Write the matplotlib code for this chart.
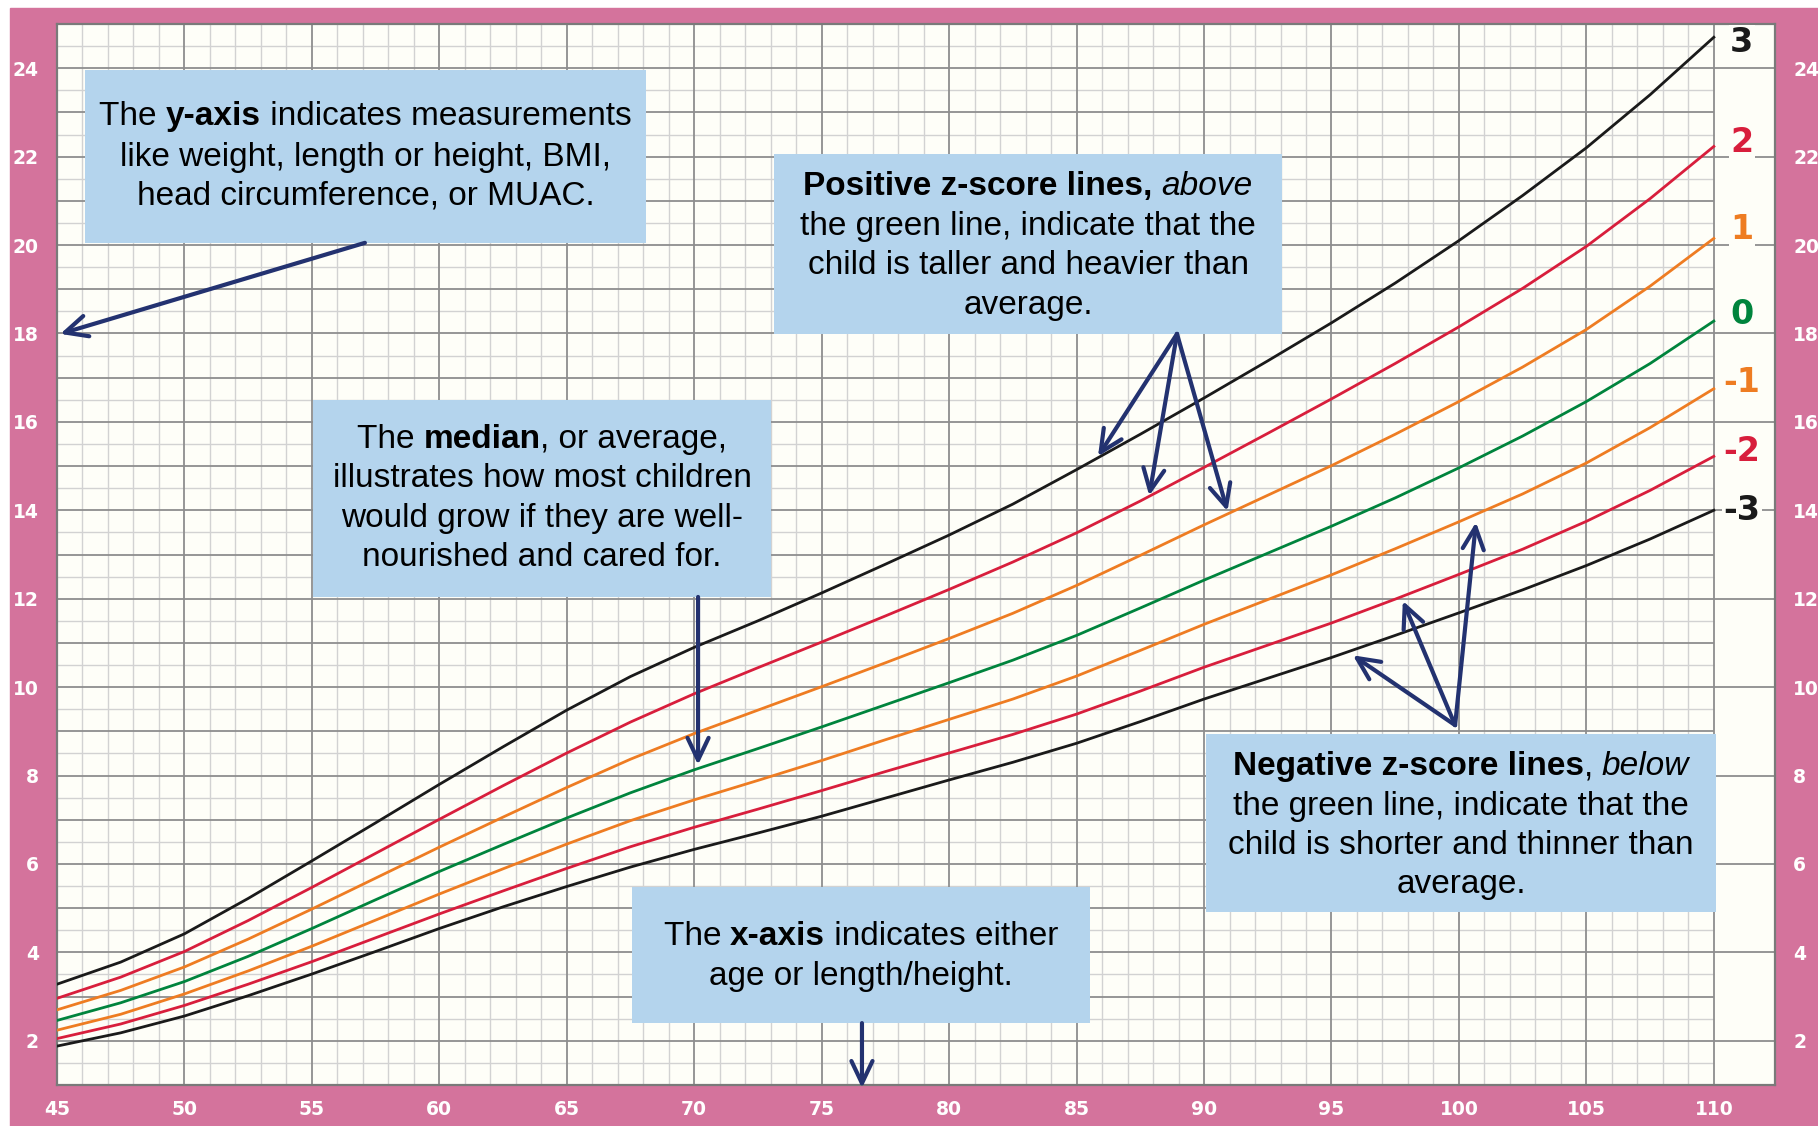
import matplotlib.pyplot as plt
from matplotlib.patches import Rectangle

# weight-for-length (cm -> kg), z-score curves
length = [45, 47.5, 50, 52.5, 55, 57.5, 60, 62.5, 65, 67.5, 70, 72.5, 75, 77.5,
          80, 82.5, 85, 87.5, 90, 92.5, 95, 97.5, 100, 102.5, 105, 107.5, 110]
sd3 = [3.28, 3.78, 4.42, 5.22, 6.07, 6.93, 7.80, 8.65, 9.48, 10.24, 10.90, 11.50, 12.13, 12.78,
       13.44, 14.14, 14.92, 15.72, 16.54, 17.38, 18.24, 19.14, 20.10, 21.12, 22.20, 23.40, 24.70]
sd2 = [2.96, 3.44, 4.02, 4.72, 5.47, 6.24, 7.01, 7.77, 8.51, 9.21, 9.85, 10.44, 11.02, 11.61,
       12.21, 12.83, 13.49, 14.21, 14.97, 15.74, 16.52, 17.32, 18.15, 19.02, 19.97, 21.05, 22.23]
sd1 = [2.70, 3.14, 3.67, 4.30, 4.98, 5.68, 6.38, 7.06, 7.73, 8.37, 8.95, 9.48, 10.01, 10.55,
       11.10, 11.67, 12.30, 12.98, 13.67, 14.34, 15.01, 15.72, 16.46, 17.24, 18.09, 19.07, 20.15]
sd0 = [2.46, 2.86, 3.34, 3.91, 4.54, 5.19, 5.83, 6.44, 7.04, 7.61, 8.13, 8.61, 9.10, 9.60,
       10.10, 10.61, 11.17, 11.79, 12.42, 13.03, 13.64, 14.28, 14.96, 15.68, 16.46, 17.32, 18.28]
sdm1 = [2.24, 2.60, 3.06, 3.58, 4.14, 4.73, 5.32, 5.89, 6.45, 6.98, 7.45, 7.89, 8.34, 8.81,
        9.27, 9.73, 10.25, 10.83, 11.42, 11.98, 12.54, 13.13, 13.74, 14.37, 15.07, 15.87, 16.75]
sdm2 = [2.05, 2.38, 2.80, 3.28, 3.79, 4.33, 4.87, 5.39, 5.90, 6.39, 6.83, 7.24, 7.66, 8.09,
        8.51, 8.93, 9.39, 9.91, 10.45, 10.95, 11.45, 11.99, 12.55, 13.12, 13.75, 14.45, 15.22]
sdm3 = [1.88, 2.18, 2.56, 3.02, 3.51, 4.02, 4.54, 5.03, 5.49, 5.93, 6.33, 6.70, 7.08, 7.49,
        7.90, 8.30, 8.73, 9.22, 9.73, 10.20, 10.67, 11.17, 11.68, 12.20, 12.75, 13.35, 14.00]
zlabels = ["3", "2", "1", "0", "-1", "-2", "-3"]
xticks = list(range(45, 111, 5))
yticks = list(range(2, 25, 2))

PINK = "#D4739C"
PAPER = "#FEFEF8"
BOX = "#B4D4ED"
NAVY = "#233270"
BLACK, RED, ORANGE, GREEN = "#1A1A1A", "#D81E3C", "#EE7C22", "#00843D"
curves = [sd3, sd2, sd1, sd0, sdm1, sdm2, sdm3]
colors = [BLACK, RED, ORANGE, GREEN, ORANGE, RED, BLACK]
label_dy = [-0.12, 0.08, 0.2, 0.16, 0.13, 0.1, 0.0]

plt.rcParams['font.family'] = ['Liberation Sans', 'DejaVu Sans']
NARROW = ['Liberation Sans Narrow', 'DejaVu Sans']

W, H = 1818, 1126
fig = plt.figure(figsize=(W / 100, H / 100), dpi=100)
fig.add_artist(Rectangle((10 / W, 0), 1, 1 - 8 / H, transform=fig.transFigure,
                         color=PINK, zorder=0))

ax = fig.add_axes([57 / W, 41 / H, (1775 - 57) / W, (1085 - 24) / H])
ax.set_facecolor(PAPER)
ax.set_xlim(45, 112.4)
ax.set_ylim(1, 25)

# grid paper
light, dark = "#D2D2D2", "#8E8E8E"
for x in range(46, 110):
    if x % 5:
        ax.vlines(x, 1, 25, color=light, lw=1.0, zorder=1)
for i in range(3, 50, 2):
    ax.hlines(i / 2, 45, 110, color=light, lw=1.0, zorder=1)
for y in range(2, 25):
    ax.hlines(y, 45, 112.4 if y % 2 == 0 else 110, color=dark, lw=1.3, zorder=1.5)
for x in xticks:
    ax.vlines(x, 1, 25, color=dark, lw=1.3, zorder=1.5)
for s in ax.spines.values():
    s.set_color("#7A7A7A")
    s.set_linewidth(1.6)

ax.set_xticks(xticks)
ax.set_yticks(yticks)
ax.tick_params(length=0, labelcolor="white", labelsize=13.5, labelright=True)
ax.tick_params(axis="x", pad=11)
ax.tick_params(axis="y", pad=13)
for t in ax.get_xticklabels() + ax.get_yticklabels():
    t.set_fontweight("bold")
    t.set_family(NARROW)

for ys, c, lab, dy in zip(curves, colors, zlabels, label_dy):
    ax.plot(length, ys, color=c, lw=2, zorder=3)
    ax.text(111.1, ys[-1] + dy, lab, color=c, fontsize=24, fontweight="bold",
            family=NARROW, ha="center", va="center", zorder=4,
            bbox=dict(facecolor=PAPER, edgecolor="none", pad=1))

renderer = fig.canvas.get_renderer()


def advance(s, size, kw):
    a = ax.text(0, 0, "|" + s + "|", fontsize=size, **kw)
    b = ax.text(0, 0, "||", fontsize=size, **kw)
    w = a.get_window_extent(renderer).width - b.get_window_extent(renderer).width
    a.remove()
    b.remove()
    return w


def rich_line(xc, yc, parts, size=24):
    widths = [advance(s, size, kw) for s, kw in parts]
    x0, y0 = ax.transData.transform((xc, yc))
    x = x0 - sum(widths) / 2
    for (s, kw), w in zip(parts, widths):
        xd, yd = ax.transData.inverted().transform((x, y0))
        ax.text(xd, yd, s, fontsize=size, ha="left", va="center", color="black",
                zorder=6, **kw)
        x += w


def note(x0, x1, y0, y1, lines, line_y):
    ax.add_patch(Rectangle((x0, y0), x1 - x0, y1 - y0, facecolor=BOX,
                           edgecolor="none", zorder=5, clip_on=False))
    for parts, y in zip(lines, line_y):
        rich_line((x0 + x1) / 2, y, parts)


def arrow(start, tip):
    ax.annotate("", xy=tip, xytext=start, annotation_clip=False,
                arrowprops=dict(arrowstyle="->,head_length=0.8,head_width=0.38",
                                mutation_scale=20, lw=3, color=NAVY,
                                shrinkA=0, shrinkB=0), zorder=7)


B = {"weight": "bold"}
I = {"style": "italic"}
N = {}

note(46.1, 68.11, 20.05, 23.96,
     [[("The ", N), ("y-axis", B), (" indicates measurements", N)],
      [("like weight, length or height, BMI,", N)],
      [("head circumference, or MUAC.", N)]],
     [22.90, 21.99, 21.11])
arrow((57.08, 20.05), (45.13, 17.99))

note(73.13, 93.06, 17.99, 22.06,
     [[("Positive z-score lines,", B), (" ", N), ("above", I)],
      [("the green line, indicate that the", N)],
      [("child is taller and heavier than", N)],
      [("average.", N)]],
     [21.32, 20.43, 19.54, 18.64])
for tip in [(85.84, 15.22), (87.85, 14.33), (90.92, 13.98)]:
    arrow((88.94, 17.99), tip)

note(55.04, 73.01, 12.04, 16.49,
     [[("The ", N), ("median", B), (", or average,", N)],
      [("illustrates how most children", N)],
      [("would grow if they are well-", N)],
      [("nourished and cared for.", N)]],
     [15.60, 14.71, 13.82, 12.93])
arrow((70.15, 12.04), (70.15, 8.24))

note(67.56, 85.53, 2.40, 5.48,
     [[("The ", N), ("x-axis", B), (" indicates either", N)],
      [("age or length/height.", N)]],
     [4.35, 3.46])
arrow((76.58, 2.40), (76.58, 0.93))

note(90.08, 110.08, 4.91, 8.94,
     [[("Negative z-score lines", B), (", ", N), ("below", I)],
      [("the green line, indicate that the", N)],
      [("child is shorter and thinner than", N)],
      [("average.", N)]],
     [8.20, 7.31, 6.42, 5.53])
for tip in [(95.84, 10.72), (97.80, 11.95), (100.67, 13.73)]:
    arrow((99.85, 9.14), tip)

fig.savefig("out.png", dpi=100, facecolor="white")
